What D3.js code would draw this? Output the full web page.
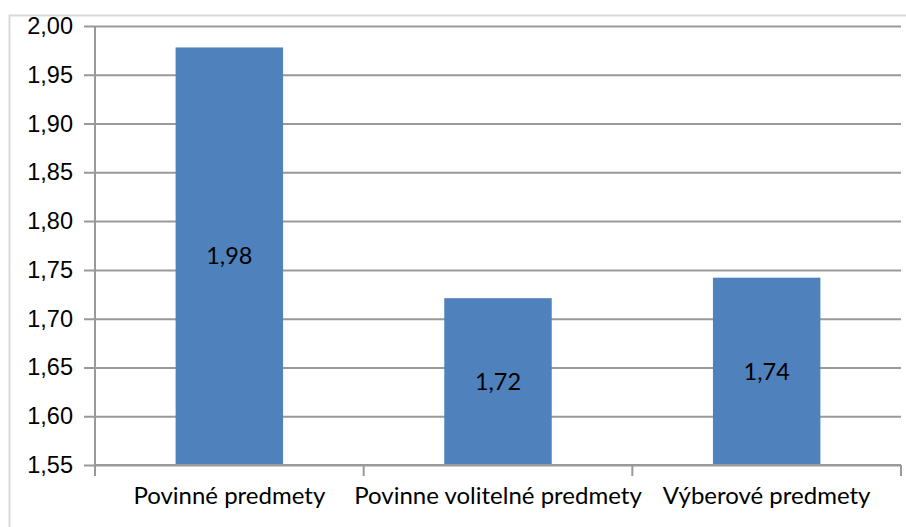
<!DOCTYPE html>
<html>
<head>
<meta charset="utf-8">
<script src="https://cdn.jsdelivr.net/npm/d3@7"></script>
<style>
  body { margin: 0; background: #fff; }
  svg { display: block; font-family: Lato, "Open Sans", sans-serif; }
</style>
</head>
<body>
<div class="chart"></div>
<script>
const categories = ['Povinné predmety', 'Povinne volitelné predmety', 'Výberové predmety'];
const values = [1.978, 1.721, 1.742];
const labels = ['1,98', '1,72', '1,74'];
const yTicks = [1.55, 1.60, 1.65, 1.70, 1.75, 1.80, 1.85, 1.90, 1.95, 2.00];

const W = 906, H = 527;
const margin = { top: 26, left: 95, bottom: 62, right: 5 };
const width = W - margin.left - margin.right;
const height = H - margin.top - margin.bottom;

const root = d3.select('.chart')
    .append('svg')
    .attr('width', W)
    .attr('height', H);

// outer chart border
root.append('rect')
    .attr('x', 9.5).attr('y', 15.5)
    .attr('width', W).attr('height', H)
    .style('fill', 'none')
    .style('stroke', '#d9d9d9')
    .style('stroke-width', 2);

const svg = root.append('g')
    .attr('transform', `translate(${margin.left}, ${margin.top})`);

// scales
const xScale = d3.scaleBand()
    .domain(categories)
    .range([0, width])
    .paddingInner(0.6)
    .paddingOuter(0.3);

const yScale = d3.scaleLinear()
    .domain([1.55, 2.0])
    .range([height, 0]);

// gridlines + y axis
const yAxis = d3.axisLeft(yScale)
    .tickValues(yTicks)
    .tickFormat(d => d3.format('.2f')(d).replace('.', ','))
    .tickSizeInner(-width)
    .tickSizeOuter(0);

const yAxisDraw = svg.append('g')
    .attr('class', 'y-axis')
    .call(yAxis);

yAxisDraw.select('.domain').remove();
yAxisDraw.selectAll('.tick line')
    .attr('x1', -11)
    .style('stroke', '#999')
    .style('stroke-width', 2);
yAxisDraw.selectAll('.tick text')
    .style('font-size', '23.5px')
    .style('fill', '#000')
    .attr('x', -22);

// vertical axis line
svg.append('line')
    .attr('x1', 0).attr('x2', 0)
    .attr('y1', 0).attr('y2', height)
    .style('stroke', '#999')
    .style('stroke-width', 2);

// bars
svg.append('g')
    .selectAll('rect')
    .data(values)
    .enter()
    .append('rect')
    .attr('x', (d, i) => xScale(categories[i]))
    .attr('y', d => yScale(d))
    .attr('width', xScale.bandwidth())
    .attr('height', d => height - yScale(d))
    .style('fill', '#4f81bd');

// bar labels
svg.append('g')
    .selectAll('text')
    .data(values)
    .enter()
    .append('text')
    .attr('x', (d, i) => xScale(categories[i]) + xScale.bandwidth() / 2)
    .attr('y', d => (yScale(d) + height) / 2)
    .attr('dy', '0.35em')
    .attr('text-anchor', 'middle')
    .style('font-size', '23.5px')
    .text((d, i) => labels[i]);

// x axis
const step = width / categories.length;
const xAxisG = svg.append('g')
    .attr('class', 'x-axis')
    .attr('transform', `translate(0, ${height})`);

xAxisG.append('line')
    .attr('x1', 0).attr('x2', width)
    .style('stroke', '#999')
    .style('stroke-width', 2);

xAxisG.selectAll('.cat-tick')
    .data(d3.range(categories.length + 1))
    .enter()
    .append('line')
    .attr('class', 'cat-tick')
    .attr('x1', i => i * step).attr('x2', i => i * step)
    .attr('y1', 0).attr('y2', 11)
    .style('stroke', '#999')
    .style('stroke-width', 2);

xAxisG.selectAll('.cat-label')
    .data(categories)
    .enter()
    .append('text')
    .attr('class', 'cat-label')
    .attr('x', d => xScale(d) + xScale.bandwidth() / 2)
    .attr('y', 39)
    .attr('text-anchor', 'middle')
    .style('font-size', '24px')
    .text(d => d);
</script>
</body>
</html>
